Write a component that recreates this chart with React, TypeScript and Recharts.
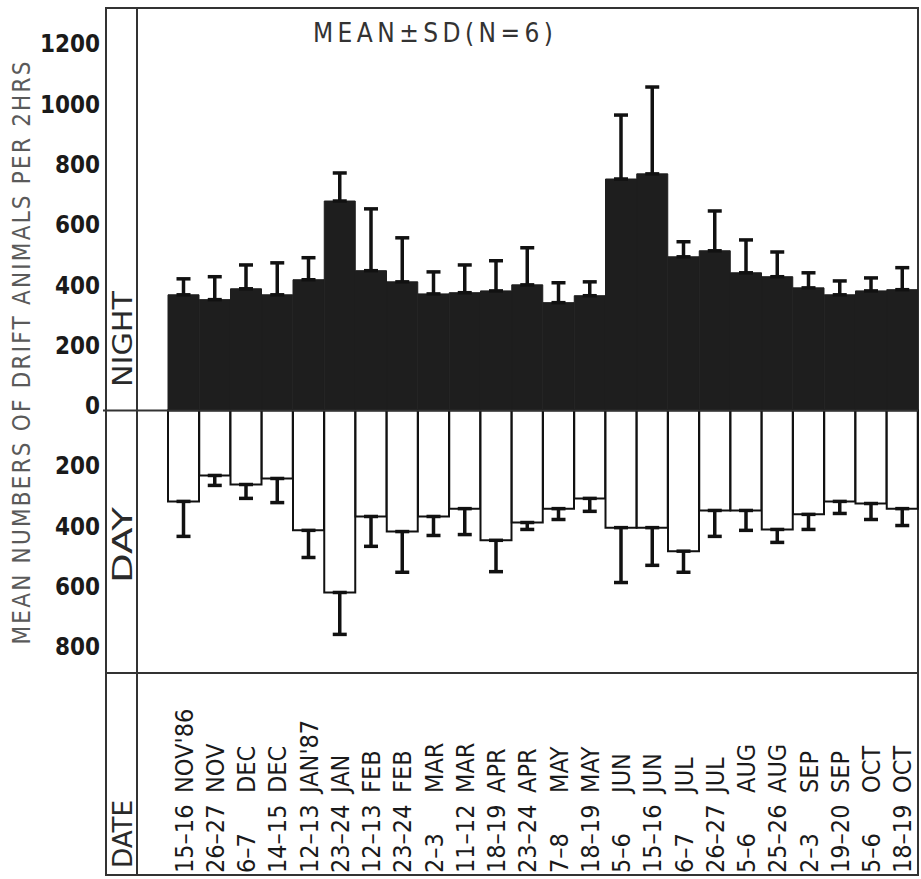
import React from "react";
import { BarChart, Bar, XAxis, YAxis, ErrorBar, ReferenceLine, Customized } from "recharts";

// ---- data ----
const dateLabels = [
  "15–16 NOV'86", "26–27 NOV", "6–7 DEC", "14–15 DEC", "12–13 JAN'87", "23–24 JAN",
  "12–13 FEB", "23–24 FEB", "2–3 MAR", "11–12 MAR", "18–19 APR", "23–24 APR",
  "7–8 MAY", "18–19 MAY", "5–6 JUN", "15–16 JUN", "6–7 JUL", "26–27 JUL",
  "5–6 AUG", "25–26 AUG", "2–3 SEP", "19–20 SEP", "5–6 OCT", "18–19 OCT",
];
const nightMean = [384, 368, 404, 384, 434, 695, 464, 427, 387, 391, 397, 417, 358, 381, 768, 785, 510, 530, 457, 444, 407, 384, 397, 401];
const nightSD = [53, 76, 79, 106, 73, 93, 205, 146, 73, 92, 100, 123, 66, 46, 212, 288, 50, 132, 109, 82, 50, 46, 43, 73];
const dayMean = [301, 215, 245, 225, 397, 603, 351, 401, 351, 325, 430, 371, 325, 291, 388, 388, 466, 331, 331, 394, 344, 301, 308, 325];
const daySD = [116, 33, 46, 80, 90, 139, 99, 135, 63, 86, 104, 23, 36, 43, 182, 125, 70, 86, 66, 43, 50, 40, 53, 56];
const yTicks = [-800, -600, -400, -200, 0, 200, 400, 600, 800, 1000, 1200];
const titleText = "MEAN±SD(N=6)";
const yTitle = "MEAN NUMBERS OF DRIFT ANIMALS PER 2HRS";

const data = dateLabels.map((label, i) => ({
  label,
  night: nightMean[i],
  nightErr: [0, nightSD[i]],
  day: -dayMean[i],
  dayErr: [daySD[i], 0],
}));

// ---- layout ----
const W = 921;
const H = 879;
const M = { top: 8, right: 3, left: 0, bottom: 0 };
const Y_W = 137;
const X_H = 206;
const DOMAIN: [number, number] = [-870, 1335];
const plotTop = M.top;
const plotBottom = H - M.bottom - X_H;
const zeroY = plotTop + (DOMAIN[1] / (DOMAIN[1] - DOMAIN[0])) * (plotBottom - plotTop);
const FONT = "'DejaVu Sans Condensed', 'DejaVu Sans', sans-serif";
const INK = "#1a1a1a";

const YTick = (props: any) => {
  const { y, payload } = props;
  return (
    <text x={100} y={y - 5} dy="0.355em" textAnchor="end" fontFamily={FONT} fontWeight="bold" fontSize={24} fill={INK}>
      {Math.abs(payload.value)}
    </text>
  );
};

const XTick = (props: any) => {
  const { x, payload } = props;
  const s: string = payload.value;
  const idx = s.indexOf(" ");
  const datePart = s.slice(0, idx);
  const monthPart = s.slice(idx + 1);
  const base = H - 6;
  return (
    <g>
      <text transform={`translate(${x},${base}) rotate(-90)`} dy="0.36em" textAnchor="start" fontFamily={FONT} fontSize={25} fill={INK}>
        {datePart}
      </text>
      <text transform={`translate(${x},${base - 80}) rotate(-90)`} dy="0.36em" textAnchor="start" fontFamily={FONT} fontSize={25} fill={INK}>
        {monthPart}
      </text>
    </g>
  );
};

const Frame = () => {
  const left = 106;
  const right = W - M.right;
  const bottom = 875;
  const s = "#333";
  const rot = (cx: number, cy: number, txt: string, len: number, size: number, fill: string, adjust: string) => (
    <text
      transform={`translate(${cx},${cy}) rotate(-90)`}
      textAnchor="middle"
      dominantBaseline="central"
      fontFamily={FONT}
      fontSize={size}
      fill={fill}
      textLength={len}
      lengthAdjust={adjust}
    >
      {txt}
    </text>
  );
  return (
    <g>
      <rect x={left} y={plotTop} width={right - left} height={bottom - plotTop} fill="none" stroke={s} strokeWidth={2} />
      <line x1={Y_W} y1={plotTop} x2={Y_W} y2={bottom} stroke={s} strokeWidth={2} />
      <line x1={left} y1={plotBottom} x2={right} y2={plotBottom} stroke={s} strokeWidth={2} />
      <line x1={103} y1={zeroY} x2={Y_W} y2={zeroY} stroke={s} strokeWidth={2} />
      {rot(122, 339, "NIGHT", 96, 27, "#2a2a2a", "spacingAndGlyphs")}
      {rot(122, 545, "DAY", 76, 27, "#2a2a2a", "spacingAndGlyphs")}
      {rot(122, 834, "DATE", 68, 27, "#2a2a2a", "spacingAndGlyphs")}
      {rot(22, 353, yTitle, 583, 24, "#5a5a5a", "spacing")}
      <text x={433} y={33} textAnchor="middle" dominantBaseline="central" fontFamily={FONT} fontSize={26} fill="#333" textLength={240} lengthAdjust="spacing">
        {titleText}
      </text>
    </g>
  );
};

export default function App() {
  return (
    <div style={{ position: "absolute", left: 0, top: 0, width: W, height: H, background: "#fff" }}>
      <BarChart width={W} height={H} data={data} margin={M} barGap={-31} barSize={31} barCategoryGap={0}>
        <XAxis
          dataKey="label"
          height={X_H}
          interval={0}
          axisLine={false}
          tickLine={false}
          padding={{ left: 31, right: 0 }}
          tick={<XTick />}
        />
        <YAxis
          type="number"
          width={Y_W}
          domain={DOMAIN}
          ticks={yTicks}
          allowDataOverflow
          axisLine={false}
          tickLine={false}
          tick={<YTick />}
        />
        <Bar dataKey="night" fill="#1e1e1e" stroke="#1e1e1e" strokeWidth={1} isAnimationActive={false}>
          <ErrorBar dataKey="nightErr" direction="y" width={7} stroke="#111" strokeWidth={3.5} isAnimationActive={false} />
        </Bar>
        <Bar dataKey="day" fill="#fff" stroke="#111" strokeWidth={2} isAnimationActive={false}>
          <ErrorBar dataKey="dayErr" direction="y" width={7} stroke="#111" strokeWidth={3.5} isAnimationActive={false} />
        </Bar>
        <ReferenceLine y={0} stroke="#333" strokeWidth={2} />
        <Customized component={<Frame />} />
      </BarChart>
    </div>
  );
}
